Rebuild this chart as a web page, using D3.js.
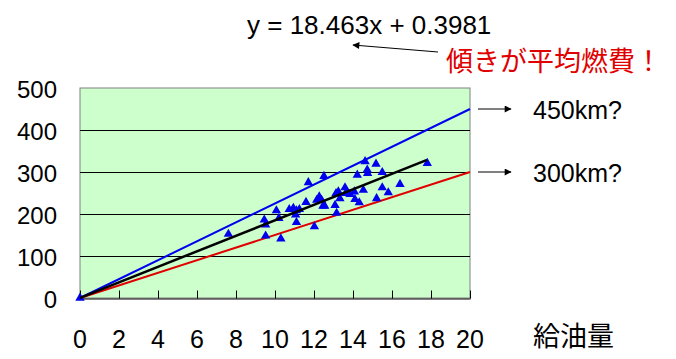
<!DOCTYPE html>
<html>
<head>
<meta charset="utf-8">
<script src="https://cdn.jsdelivr.net/npm/d3@7"></script>
<style>
  body { margin: 0; background: #fff; }
  svg { display: block; }
</style>
</head>
<body>
<div id="chart"></div>
<script>
// fuel amount (L) and distance (km)
var fuel = [0, 7.61, 9.45, 9.52, 9.52, 10.07, 10.2, 10.3, 10.73, 10.94, 11.06, 11.1, 11.1, 11.25, 11.59,
  11.71, 12.02, 12.14, 12.27, 12.39, 12.46, 12.51, 12.55, 13.08, 13.13, 13.16, 13.25, 13.33, 13.59, 13.62,
  13.85, 14.07, 14.1, 14.22, 14.32, 14.53, 14.62, 14.73, 14.75, 15.18, 15.21, 15.5, 15.5, 15.81, 16.41, 17.81];
var distance = [0, 152, 186, 174, 148, 208, 190, 141, 211, 214, 198, 208, 180, 211, 228,
  275, 170, 233, 241, 233, 219, 290, 219, 221, 249, 202, 253, 237, 263, 249,
  247, 253, 235, 293, 227, 257, 325, 305, 297, 319, 237, 299, 263, 251, 271, 321];

var xTicks = [0, 2, 4, 6, 8, 10, 12, 14, 16, 18, 20];
var yTicks = [0, 100, 200, 300, 400, 500];

// trend line y = a x + b
var trendSlope = 18.463;
var trendIntercept = 0.3981;
var trendEndX = 17.8;

// reference lines through the origin, value reached at x = 20
var refEnds = [450, 300];
var refLabels = ["450km?", "300km?"];
var refColors = ["#0000ee", "#e00000"];

var xTitle = "給油量";
var note = "傾きが平均燃費！";

var w = 676, h = 359;
var plotL = 80, plotR = 470, plotT = 88, plotB = 298;

var x = d3.scaleLinear().domain([0, 20]).range([plotL, plotR]);
var y = d3.scaleLinear().domain([0, 500]).range([plotB, plotT]);

var svg = d3.select("#chart").append("svg")
  .attr("width", w)
  .attr("height", h);

var defs = svg.append("defs");
defs.append("marker")
  .attr("id", "arrow")
  .attr("viewBox", "0 0 10 10")
  .attr("refX", 9)
  .attr("refY", 5)
  .attr("markerWidth", 10)
  .attr("markerHeight", 7)
  .attr("markerUnits", "userSpaceOnUse")
  .attr("orient", "auto")
  .append("path")
  .attr("d", "M0,0 L10,5 L0,10 Z")
  .attr("fill", "#000");

// plot background
svg.append("rect")
  .attr("x", plotL)
  .attr("y", plotT)
  .attr("width", plotR - plotL)
  .attr("height", plotB - plotT)
  .attr("fill", "#ccffcc")
  .attr("stroke", "#808080")
  .attr("stroke-width", 1);

// gridlines
svg.selectAll(".grid")
  .data(yTicks.filter(function(d) { return d > 0 && d < 500; }))
  .enter()
  .append("line")
  .attr("x1", plotL)
  .attr("x2", plotR)
  .attr("y1", function(d) { return Math.round(y(d)) + 0.5; })
  .attr("y2", function(d) { return Math.round(y(d)) + 0.5; })
  .attr("stroke", "#000")
  .attr("stroke-width", 1);

// x axis with inward ticks
var xAxis = svg.append("g")
  .attr("transform", "translate(0," + (plotB + 0.5) + ")")
  .call(d3.axisTop(x).tickValues(xTicks).tickSize(8).tickSizeOuter(0).tickFormat(""));
xAxis.select(".domain").attr("stroke", "#000");
xAxis.selectAll("line").attr("stroke", "#000");

// x tick labels
svg.selectAll(".xlab")
  .data(xTicks)
  .enter()
  .append("text")
  .attr("x", function(d) { return x(d); })
  .attr("y", 348)
  .attr("text-anchor", "middle")
  .style("font-family", "'Liberation Sans', Arial, sans-serif")
  .style("font-size", "25px")
  .text(function(d) { return d; });

// y tick labels
svg.selectAll(".ylab")
  .data(yTicks)
  .enter()
  .append("text")
  .attr("x", 57)
  .attr("y", function(d) { return y(d) + 10; })
  .attr("text-anchor", "end")
  .style("font-family", "'Liberation Sans', Arial, sans-serif")
  .style("font-size", "24px")
  .text(function(d) { return d; });

// reference lines
svg.selectAll(".ref")
  .data(refEnds)
  .enter()
  .append("line")
  .attr("x1", x(0))
  .attr("y1", y(0))
  .attr("x2", x(20))
  .attr("y2", function(d) { return y(d); })
  .attr("stroke", function(d, i) { return refColors[i]; })
  .attr("stroke-width", 2);

// data points
var pts = fuel.map(function(f, i) { return { f: f, d: distance[i] }; });
svg.selectAll(".pt")
  .data(pts)
  .enter()
  .append("path")
  .attr("d", d3.symbol().type(d3.symbolTriangle).size(38))
  .attr("transform", function(d) { return "translate(" + x(d.f) + "," + y(d.d) + ")"; })
  .attr("fill", "#0000ee");

// trend line
svg.append("line")
  .attr("x1", x(0))
  .attr("y1", y(trendIntercept))
  .attr("x2", x(trendEndX))
  .attr("y2", y(trendSlope * trendEndX + trendIntercept))
  .attr("stroke", "#000")
  .attr("stroke-width", 2.5);

// arrows + labels on the right
refEnds.forEach(function(v, i) {
  var yy = Math.round(y(v));
  svg.append("line")
    .attr("x1", 478)
    .attr("x2", 511)
    .attr("y1", yy)
    .attr("y2", yy)
    .attr("stroke", "#000")
    .attr("stroke-width", 1)
    .attr("marker-end", "url(#arrow)");
  svg.append("text")
    .attr("x", 533)
    .attr("y", yy + 10)
    .style("font-family", "'Liberation Sans', Arial, sans-serif")
    .style("font-size", "25px")
    .text(refLabels[i]);
});

// equation
svg.append("text")
  .attr("x", 247)
  .attr("y", 34)
  .style("font-family", "'Liberation Sans', Arial, sans-serif")
  .style("font-size", "26px")
  .text("y = " + trendSlope + "x + " + trendIntercept);

// note arrow pointing at the slope
svg.append("line")
  .attr("x1", 438)
  .attr("y1", 52)
  .attr("x2", 353)
  .attr("y2", 45)
  .attr("stroke", "#000")
  .attr("stroke-width", 1)
  .attr("marker-end", "url(#arrow)");

svg.append("text")
  .attr("x", 446)
  .attr("y", 71)
  .attr("fill", "#e00000")
  .style("font-family", "'Noto Sans CJK JP', sans-serif")
  .style("font-size", "27px")
  .text(note);

// x axis title
svg.append("text")
  .attr("x", 533)
  .attr("y", 346)
  .style("font-family", "'Noto Sans CJK JP', sans-serif")
  .style("font-size", "27px")
  .text(xTitle);
</script>
</body>
</html>
